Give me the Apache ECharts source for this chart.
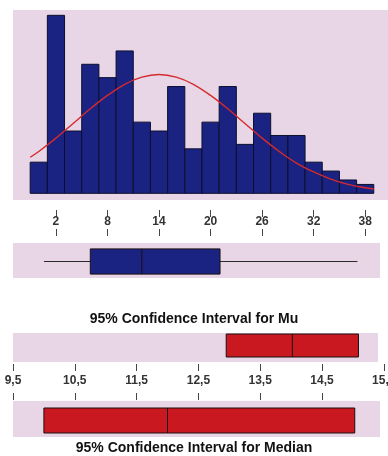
<!DOCTYPE html>
<html>
<head>
<meta charset="utf-8">
<script src="https://cdn.jsdelivr.net/npm/echarts@6/dist/echarts.min.js"></script>
<style>
  html, body { margin: 0; padding: 0; background: #ffffff; }
  #chart { width: 388px; height: 456px; }
</style>
</head>
<body>
<div id="chart"></div>
<script>
// Histogram: bin centers (width 2) and counts
const binCenters = [0, 2, 4, 6, 8, 10, 12, 14, 16, 18, 20, 22, 24, 26, 28, 30, 32, 34, 36, 38];
const binCounts  = [7, 40, 14, 29, 26, 32, 16, 14, 24, 10, 16, 24, 11, 18, 13, 13, 7, 5, 3, 2];
const binWidth = 2;

// Fitted normal curve (expected counts per bin)
const curveX = [-1, 0, 2, 4, 6, 8, 10, 12, 14, 16, 18, 20, 22, 24, 26, 28, 30, 32, 34, 36, 38, 39];
const curveY = [8.1, 9.4, 12.4, 15.7, 19.0, 22.0, 24.5, 26.1, 26.7, 26.1, 24.5, 22.0, 19.0, 15.7, 12.4, 9.4, 6.8, 4.8, 3.2, 2.0, 1.25, 0.96];
const histTicks = [2, 8, 14, 20, 26, 32, 38];

// Box plot: min, Q1, median, Q3, max
const boxStats = [0.6, 6, 12, 21.1, 37.1];

// Confidence intervals: lower, center, upper
const muCI = [12.95, 14.02, 15.09];
const medianCI = [10.0, 12.0, 15.03];
const ciTicks = [9.5, 10.5, 11.5, 12.5, 13.5, 14.5, 15.5];

const muTitle = '95% Confidence Interval for Mu';
const medianTitle = '95% Confidence Interval for Median';

// Styling
const PANEL = '#e8d5e5';
const NAVY = '#1b2382';
const RED = '#c9181f';
const FONT = 'Liberation Sans, Arial, sans-serif';
const LABEL = { color: '#333', fontSize: 12, fontWeight: 'bold', fontFamily: FONT };

// Shared horizontal scales (px per unit) for the upper and lower blocks
const histMin = -3, histScale = 8.59;
const ciMin = 9.5, ciScale = 61.8;
const LEFT = 13;

function baseAxis(gridIndex, min, max, extra) {
  return Object.assign({
    type: 'value', gridIndex: gridIndex, min: min, max: max,
    axisLine: { show: false }, splitLine: { show: false },
    axisTick: { show: false }, axisLabel: { show: false }
  }, extra);
}
const histAxis = (g, w, extra) => baseAxis(g, histMin, histMin + w / histScale, extra);
const ciAxis = (g, w, extra) => baseAxis(g, ciMin, ciMin + w / ciScale, extra);

const tickStyle = { color: '#444', width: 1 };
const ticks = (vals, extra) => Object.assign({ show: true, length: 7, lineStyle: tickStyle, customValues: vals }, extra);
const commaFmt = v => String(v).replace('.', ',');

// Horizontal box between lo..hi with a center line
function hBox(lo, mid, hi, yc, h, fill) {
  return [
    { type: 'rect', shape: { x: lo, y: yc - h / 2, width: hi - lo, height: h },
      style: { fill: fill, stroke: '#1a0f10', lineWidth: 1 } },
    { type: 'line', shape: { x1: mid, y1: yc - h / 2, x2: mid, y2: yc + h / 2 },
      style: { stroke: '#1a0f10', lineWidth: 1 } }
  ];
}

const gridBase = { left: LEFT, borderWidth: 0, outerBoundsMode: 'none', containLabel: false };
const panel = (top, width, height) => Object.assign({ top, width, height, show: true, backgroundColor: PANEL }, gridBase);
const strip = (top, width, height) => Object.assign({ top, width, height, show: false }, gridBase);

const chart = echarts.init(document.getElementById('chart'), null, { renderer: 'canvas' });

chart.setOption({
  animation: false,
  backgroundColor: '#ffffff',
  title: [
    { text: muTitle, left: 'center', top: 307,
      textStyle: { fontSize: 14, fontWeight: 'bold', color: '#111', fontFamily: FONT } },
    { text: medianTitle, left: 'center', top: 436,
      textStyle: { fontSize: 14, fontWeight: 'bold', color: '#111', fontFamily: FONT } }
  ],
  grid: [
    panel(10, 375, 190),   // 0 histogram
    panel(243, 367, 35),   // 1 box plot
    panel(333, 365, 29),   // 2 Mu interval
    panel(401, 367, 36),   // 3 median interval
    strip(364, 375, 36),   // 4 CI labels
    strip(203, 375, 7),    // 5 ticks under histogram
    strip(354, 375, 10)    // 6 ticks under Mu panel (bottom edge at 364)
  ],
  xAxis: [
    histAxis(0, 375, {
      position: 'bottom', offset: 3,
      axisLabel: Object.assign({ show: true, margin: 13, customValues: histTicks }, LABEL)
    }),
    histAxis(1, 367, { position: 'top', offset: 7, axisTick: ticks(histTicks) }),
    ciAxis(2, 365, {}),
    ciAxis(3, 367, { position: 'top', offset: 1, axisTick: ticks(ciTicks) }),
    ciAxis(4, 375, {
      position: 'top',
      axisLabel: Object.assign({ show: true, inside: true, margin: 11, customValues: ciTicks, formatter: commaFmt }, LABEL)
    }),
    histAxis(5, 375, { position: 'top', axisTick: ticks(histTicks, { inside: true }) }),
    ciAxis(6, 375, { position: 'bottom', axisTick: ticks(ciTicks) })
  ],
  yAxis: [
    { type: 'value', gridIndex: 0, min: -1.5, max: 41.2, show: false },
    { type: 'category', gridIndex: 1, data: [''], show: false },
    { type: 'category', gridIndex: 2, data: [''], show: false },
    { type: 'category', gridIndex: 3, data: [''], show: false },
    { type: 'value', gridIndex: 4, show: false },
    { type: 'value', gridIndex: 5, show: false },
    { type: 'value', gridIndex: 6, show: false }
  ],
  series: [
    {
      name: 'Histogram', type: 'custom', xAxisIndex: 0, yAxisIndex: 0, z: 2,
      data: binCenters.map((c, i) => [c - binWidth / 2, c + binWidth / 2, binCounts[i]]),
      encode: { x: [0, 1], y: 2 },
      renderItem: function (params, api) {
        const p0 = api.coord([api.value(0), api.value(2)]);
        const p1 = api.coord([api.value(1), 0]);
        return { type: 'rect',
          shape: { x: p0[0], y: p0[1], width: p1[0] - p0[0], height: p1[1] - p0[1] },
          style: { fill: NAVY, stroke: '#0c0f2e', lineWidth: 1 } };
      }
    },
    {
      name: 'Normal fit', type: 'line', xAxisIndex: 0, yAxisIndex: 0, z: 5,
      data: curveX.map((x, i) => [x, curveY[i]]),
      smooth: 0.35, symbol: 'none',
      lineStyle: { color: '#d42a2c', width: 1.4 }
    },
    {
      name: 'Boxplot', type: 'custom', xAxisIndex: 1, yAxisIndex: 1,
      data: [[0].concat(boxStats)],
      encode: { x: [1, 2, 3, 4, 5], y: 0 },
      renderItem: function (params, api) {
        const yc = api.coord([api.value(1), 0])[1] + 1;
        const h = api.size([0, 1])[1] * 0.72;
        const xs = [1, 2, 3, 4, 5].map(d => api.coord([api.value(d), 0])[0]);
        return { type: 'group', children: [
          { type: 'line', shape: { x1: xs[0], y1: yc, x2: xs[4], y2: yc },
            style: { stroke: '#2a2a2a', lineWidth: 1.2 } }
        ].concat(hBox(xs[1], xs[2], xs[3], yc, h, NAVY)) };
      }
    },
    {
      name: 'Mu CI', type: 'custom', xAxisIndex: 2, yAxisIndex: 2,
      data: [[0].concat(muCI)],
      encode: { x: [1, 2, 3], y: 0 },
      renderItem: function (params, api) {
        const yc = api.coord([api.value(1), 0])[1] - 2;
        const xs = [1, 2, 3].map(d => api.coord([api.value(d), 0])[0]);
        return { type: 'group', children: hBox(xs[0], xs[1], xs[2], yc, 23, RED) };
      }
    },
    {
      name: 'Median CI', type: 'custom', xAxisIndex: 3, yAxisIndex: 3,
      data: [[0].concat(medianCI)],
      encode: { x: [1, 2, 3], y: 0 },
      renderItem: function (params, api) {
        const yc = api.coord([api.value(1), 0])[1] + 1.5;
        const xs = [1, 2, 3].map(d => api.coord([api.value(d), 0])[0]);
        return { type: 'group', children: hBox(xs[0], xs[1], xs[2], yc, 25, RED) };
      }
    }
  ]
});
</script>
</body>
</html>
